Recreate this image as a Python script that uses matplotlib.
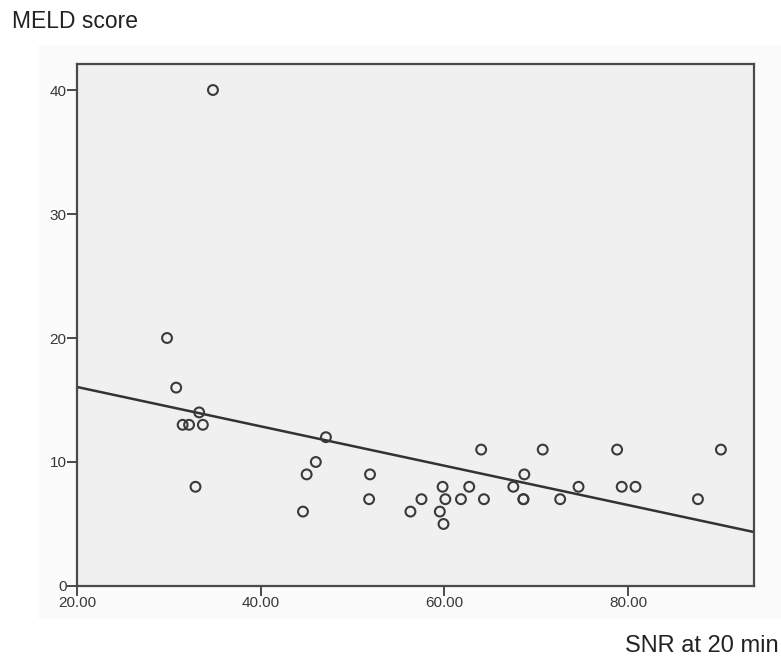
import matplotlib.pyplot as plt
from matplotlib.patches import Rectangle

# Dados
snr = [34.8, 29.8, 30.8, 31.5, 32.2, 33.3, 33.7, 32.9,
       44.6, 45.0, 46.0, 47.1, 51.9, 51.8,
       56.3, 57.5, 59.8, 60.1, 59.5, 59.9, 61.8, 62.7, 64.0, 64.3,
       67.5, 68.7, 68.6, 68.6, 70.7, 72.6, 74.6, 78.8, 79.3, 80.8,
       87.6, 90.1]
meld = [40, 20, 16, 13, 13, 14, 13, 8,
        6, 9, 10, 12, 9, 7,
        6, 7, 8, 7, 6, 5, 7, 8, 11, 7,
        8, 9, 7, 7, 11, 7, 8, 11, 8, 8,
        7, 11]

# Reta de regressão (extremos)
fit_x = [20.0, 93.7]
fit_y = [16.05, 4.35]

x_ticks = [20, 40, 60, 80]
x_labels = ["20.00", "40.00", "60.00", "80.00"]
y_ticks = [0, 10, 20, 30, 40]

plt.rcParams['font.family'] = ['Liberation Sans', 'DejaVu Sans']

fig = plt.figure(figsize=(7.81, 6.59), dpi=100)

# painel externo levemente acinzentado
fig.patches.append(Rectangle((0.049, 0.06), 0.951, 0.872, transform=fig.transFigure,
                             facecolor='#fbfbfb', edgecolor='none', zorder=-1))

ax = fig.add_axes([0.0986, 0.1108, 0.8668, 0.7921])
ax.set_zorder(1)

ax.set_facecolor('#f0f0f0')
ax.plot(fit_x, fit_y, color='#333333', linewidth=1.8, zorder=2)
ax.scatter(snr, meld, s=50, facecolors='none', edgecolors='#3a3a3a',
           linewidths=1.5, zorder=3)

ax.set_xlim(20, 93.7)
ax.set_ylim(0, 42.1)
ax.set_xticks(x_ticks)
ax.set_xticklabels(x_labels)
ax.set_yticks(y_ticks)

for s in ax.spines.values():
    s.set_color('#4a4a4a')
    s.set_linewidth(1.6)

ax.tick_params(direction='out', length=7, width=1.4, color='#4a4a4a',
               labelsize=11, labelcolor='#383838', pad=0.5)

fig.text(0.016, 0.968, "MELD score", fontsize=16.5, color='#222222',
         ha='left', va='center')
fig.text(0.997, 0.02, "SNR at 20 min", fontsize=17, color='#222222',
         ha='right', va='center')

plt.savefig("out.png", dpi=100)
plt.close()
